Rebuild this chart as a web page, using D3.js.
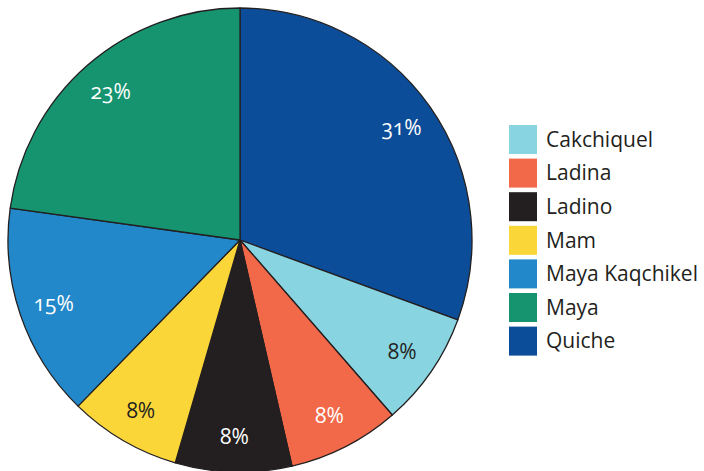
<!DOCTYPE html>
<html>
<head>
<meta charset="utf-8">
<script src="https://cdn.jsdelivr.net/npm/d3@7"></script>
<style>
  html, body { margin: 0; padding: 0; background: #fff; }
  svg { display: block; font-family: "Open Sans", "Noto Sans", sans-serif; }
  .lbl { font-variant-numeric: oldstyle-nums; font-feature-settings: "onum" 1; }
</style>
</head>
<body>
<svg id="chart" width="704" height="471"></svg>
<script>
// Data (pie drawn clockwise from 12 o'clock in this order)
const categories = ["Quiche", "Cakchiquel", "Ladina", "Ladino", "Mam", "Maya Kaqchikel", "Maya"];
const values = [30.6, 8.0, 7.8, 8.1, 7.8, 14.9, 22.8];
const labels = ["31%", "8%", "8%", "8%", "8%", "15%", "23%"];
const legendOrder = ["Cakchiquel", "Ladina", "Ladino", "Mam", "Maya Kaqchikel", "Maya", "Quiche"];
const colors = {
  "Cakchiquel": "#88d4e1",
  "Ladina": "#f2694a",
  "Ladino": "#231f20",
  "Mam": "#fbd638",
  "Maya Kaqchikel": "#2288c9",
  "Maya": "#15946f",
  "Quiche": "#0c4d9a"
};
const labelColors = {
  "Cakchiquel": "#231f20",
  "Mam": "#231f20"
};

const svg = d3.select("#chart");
const cx = 240, cy = 240, R = 232;

const data = categories.map((c, i) => ({ name: c, value: values[i], label: labels[i] }));

const pie = d3.pie().value(d => d.value).sort(null);
const arcs = pie(data);
const arc = d3.arc().innerRadius(0).outerRadius(R);
const labelArc = d3.arc().innerRadius(197).outerRadius(197);

const g = svg.append("g").attr("transform", `translate(${cx},${cy})`);

g.selectAll("path.slice")
  .data(arcs)
  .enter().append("path")
  .attr("class", "slice")
  .attr("d", arc)
  .attr("fill", d => colors[d.data.name])
  .attr("stroke", "#231f20")
  .attr("stroke-width", 1.3)
  .attr("stroke-linejoin", "round");

g.selectAll("text.lbl")
  .data(arcs)
  .enter().append("text")
  .attr("class", "lbl")
  .attr("transform", d => `translate(${labelArc.centroid(d)})`)
  .attr("text-anchor", "middle")
  .attr("dy", "0.35em")
  .attr("font-size", 21)
  .attr("fill", d => labelColors[d.data.name] || "#ffffff")
  .text(d => d.data.label);

// Legend
const legend = svg.append("g").attr("transform", "translate(509,125)");
const rowH = 33.6;
const items = legend.selectAll("g.item")
  .data(legendOrder)
  .enter().append("g")
  .attr("class", "item")
  .attr("transform", (d, i) => `translate(0,${i * rowH})`);

items.append("rect")
  .attr("width", 28)
  .attr("height", 29)
  .attr("fill", d => colors[d]);

items.append("text")
  .attr("x", 37)
  .attr("y", 14.5)
  .attr("dy", "0.35em")
  .attr("font-size", 21)
  .attr("fill", "#231f20")
  .text(d => d);
</script>
</body>
</html>
